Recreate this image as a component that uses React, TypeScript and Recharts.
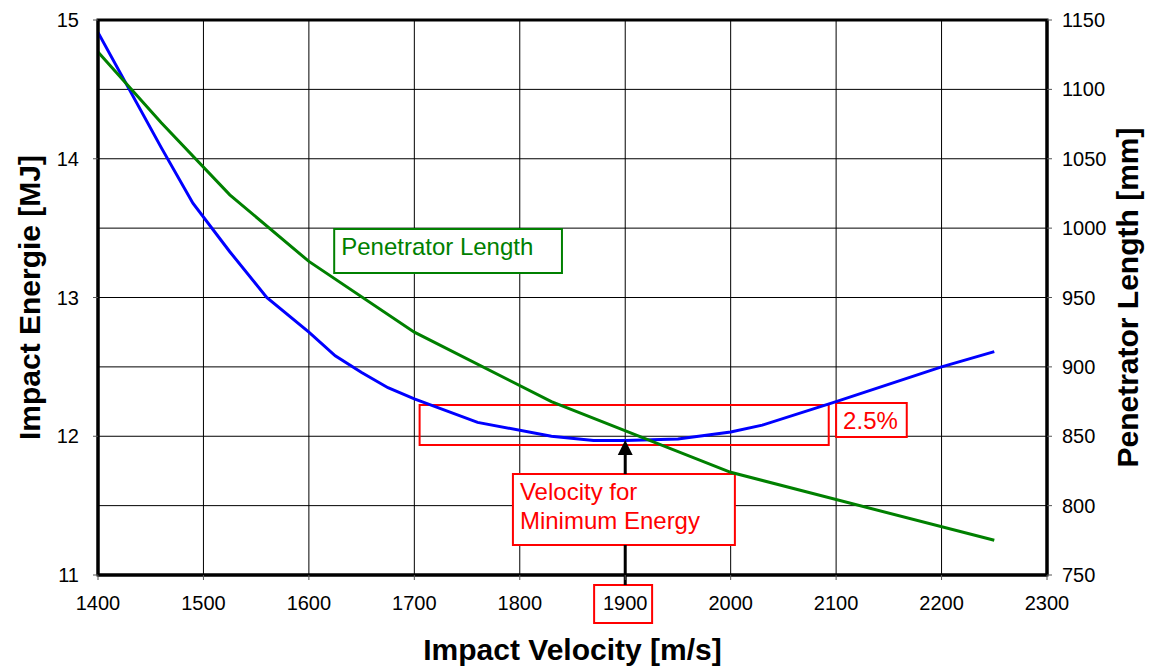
import { LineChart, Line, XAxis, YAxis, CartesianGrid, ReferenceArea, ReferenceLine } from "recharts";

// impact energy curve (left axis)
const blueVelocity = [1400, 1460, 1490, 1525, 1560, 1600, 1625, 1650, 1675, 1700, 1760, 1830, 1870, 1900, 1950, 2000, 2030, 2100, 2200, 2250];
const energyMJ = [14.91, 14.08, 13.68, 13.33, 13.0, 12.75, 12.58, 12.46, 12.35, 12.27, 12.1, 12.0, 11.97, 11.97, 11.98, 12.03, 12.08, 12.25, 12.5, 12.61];

// penetrator length curve (right axis)
const greenVelocity = [1400, 1460, 1525, 1600, 1700, 1830, 2000, 2250];
const lengthMM = [1127, 1076, 1024, 976, 925, 875, 824, 775];

const xTicks = [1400, 1500, 1600, 1700, 1800, 1900, 2000, 2100, 2200, 2300];
const leftTicks = [11, 12, 13, 14, 15];
const rightTicks = [750, 800, 850, 900, 950, 1000, 1050, 1100, 1150];

const energyData = blueVelocity.map((v, i) => ({ v, e: energyMJ[i] }));
const lengthData = greenVelocity.map((v, i) => ({ v, l: lengthMM[i] }));

const RED = "#ff0000";
const GREEN = "#008000";

function RotTitle({ viewBox, text, dx }: any) {
  const cx = viewBox.x + dx;
  const cy = viewBox.y + viewBox.height / 2;
  return (
    <text x={cx} y={cy} transform={`rotate(-90 ${cx} ${cy})`} textAnchor="middle" dominantBaseline="central"
      fontSize={30} fontWeight="bold" fill="#000">
      {text}
    </text>
  );
}

function XTitle({ viewBox }: any) {
  return (
    <text x={viewBox.x + viewBox.width / 2} y={viewBox.y + 85} textAnchor="middle" fontSize={30} fontWeight="bold" fill="#000">
      Impact Velocity [m/s]
    </text>
  );
}

function BoxText({ viewBox, lines, color }: any) {
  return (
    <text x={viewBox.x + 7} y={viewBox.y + 26} fontSize={24} fill={color}>
      {lines.map((t: string, i: number) => (
        <tspan key={i} x={viewBox.x + 7} dy={i === 0 ? 0 : 29}>{t}</tspan>
      ))}
    </text>
  );
}

function Arrow(props: any) {
  const { x1, y1, x2, y2 } = props;
  return (
    <g>
      <line x1={x1} y1={y1} x2={x2} y2={y2 + 12} stroke="#000" strokeWidth={3} />
      <polygon points={`${x2},${y2} ${x2 - 7.5},${y2 + 15} ${x2 + 7.5},${y2 + 15}`} fill="#000" />
    </g>
  );
}

function Plain(props: any) {
  const { x1, y1, x2, y2 } = props;
  return <line x1={x1} y1={y1} x2={x2} y2={y2} stroke="#000" strokeWidth={3} />;
}

export default function App() {
  return (
    <div style={{ position: "absolute", left: 0, top: 0, fontFamily: "'Liberation Sans', Arial, sans-serif" }}>
      <LineChart width={1157} height={671} margin={{ top: 20, right: 50, bottom: 66, left: 38 }}>
        <CartesianGrid yAxisId="right" stroke="#000" strokeWidth={1} />
        <XAxis type="number" dataKey="v" domain={[1400, 2300]} ticks={xTicks} allowDataOverflow
          height={30} tickSize={5} tickMargin={16} tick={{ fontSize: 20, fill: "#000" }}
          axisLine={{ stroke: "#000", strokeWidth: 3 }} tickLine={{ stroke: "#555" }}
          label={<XTitle />} />
        <YAxis yAxisId="left" domain={[11, 15]} ticks={leftTicks} width={60} tickSize={5} tickMargin={14}
          tick={{ fontSize: 20, fill: "#000" }} axisLine={{ stroke: "#000", strokeWidth: 3 }} tickLine={{ stroke: "#555" }}
          label={<RotTitle text="Impact Energie [MJ]" dx={-9} />} />
        <YAxis yAxisId="right" orientation="right" domain={[750, 1150]} ticks={rightTicks} width={60} tickSize={5}
          tickMargin={10} tick={{ fontSize: 20, fill: "#000", textAnchor: "start" }}
          axisLine={{ stroke: "#000", strokeWidth: 3 }} tickLine={{ stroke: "#555" }}
          label={<RotTitle text="Penetrator Length [mm]" dx={80} />} />

        {/* plot frame */}
        <ReferenceArea yAxisId="left" x1={1400} x2={2300} y1={11} y2={15} fill="none" stroke="#000" strokeWidth={3} />

        <Line yAxisId="left" data={energyData} dataKey="e" type="linear" stroke="#0000ff" strokeWidth={3} dot={false} isAnimationActive={false} />
        <Line yAxisId="right" data={lengthData} dataKey="l" type="linear" stroke={GREEN} strokeWidth={3} dot={false} isAnimationActive={false} />

        {/* annotations */}
        <ReferenceArea yAxisId="left" x1={1624} x2={1840} y1={13.177} y2={13.494} fill="#fff" fillOpacity={1}
          stroke={GREEN} strokeWidth={2} label={<BoxText lines={["Penetrator Length"]} color={GREEN} />} />
        <ReferenceArea yAxisId="left" x1={1705} x2={2093} y1={11.937} y2={12.225} fill="none" stroke={RED} strokeWidth={2} />
        <ReferenceArea yAxisId="left" x1={2100} x2={2167} y1={11.995} y2={12.24} fill="#fff" fillOpacity={1}
          stroke={RED} strokeWidth={2} label={<BoxText lines={["2.5%"]} color={RED} />} />
        <ReferenceArea yAxisId="left" x1={1793.5} x2={2004} y1={11.216} y2={11.728} fill="#fff" fillOpacity={1}
          stroke={RED} strokeWidth={2} label={<BoxText lines={["Velocity for", "Minimum Energy"]} color={RED} />} />
        <ReferenceArea yAxisId="left" x1={1870.5} x2={1925.5} y1={10.654} y2={10.928} fill="none" stroke={RED}
          strokeWidth={2} ifOverflow="visible" />
        <ReferenceLine yAxisId="left" segment={[{ x: 1900, y: 10.928 }, { x: 1900, y: 11.216 }]} ifOverflow="visible" shape={<Plain />} />
        <ReferenceLine yAxisId="left" segment={[{ x: 1900, y: 11.728 }, { x: 1900, y: 11.973 }]} shape={<Arrow />} />
      </LineChart>
    </div>
  );
}
